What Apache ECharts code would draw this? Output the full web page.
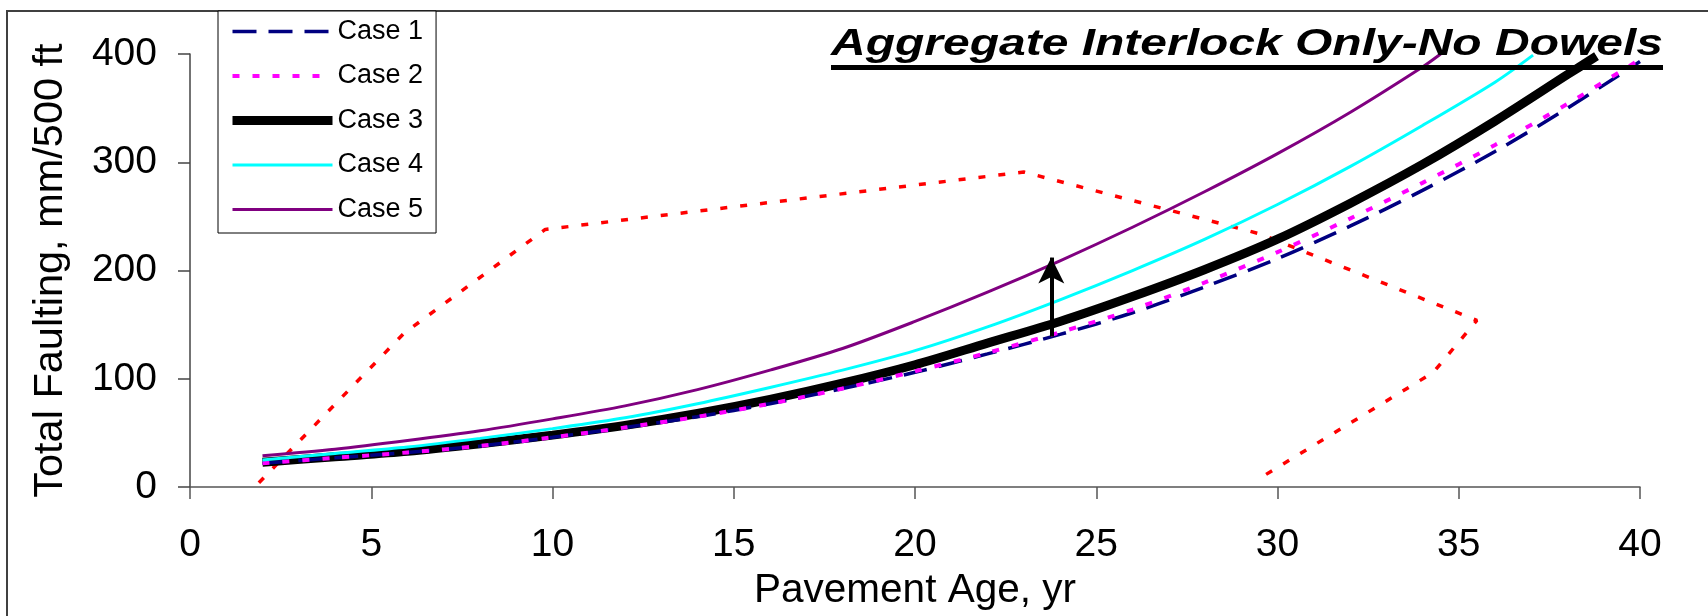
<!DOCTYPE html>
<html>
<head>
<meta charset="utf-8">
<script src="https://cdn.jsdelivr.net/npm/echarts@6/dist/echarts.min.js"></script>
<style>
  html, body { margin: 0; padding: 0; background: #ffffff; }
  #chart { width: 1708px; height: 616px; }
</style>
</head>
<body>
<div id="chart"></div>
<script>
// Total faulting (mm/500 ft) against pavement age (yr), aggregate interlock only
const caseNames = ['Case 1', 'Case 2', 'Case 3', 'Case 4', 'Case 5'];

const case1Age = [2, 4, 6, 8, 10, 12, 14, 16, 18, 20, 22, 24, 26, 28, 30, 32, 34, 36, 38, 40];
const case1Fault = [22, 27, 32, 38, 46, 55, 65, 77, 91, 106, 123, 141, 161, 185, 211, 241, 274, 310, 350, 393];

const case2Age = [2, 4, 6, 8, 10, 12, 14, 16, 18, 20, 22, 24, 26, 28, 30, 32, 34, 36, 38, 40];
const case2Fault = [22, 27, 32, 38, 46, 55, 65, 77, 91, 107, 124, 143, 164, 189, 217, 248, 281, 316, 354, 395];

const case3Age = [2, 4, 6, 8, 10, 12, 14, 16, 18, 20, 22, 24, 26, 28, 30, 32, 34, 36, 38, 38.8];
const case3Fault = [23, 28, 33, 40, 48, 57, 68, 81, 96, 113, 133, 153, 176, 201, 229, 262, 298, 338, 381, 398];

const case4Age = [2, 4, 6, 8, 10, 12, 14, 16, 18, 20, 22, 24, 26, 28, 30, 32, 34, 36, 37.05];
const case4Fault = [25, 31, 37, 45, 54, 64, 77, 92, 108, 126, 148, 173, 200, 229, 261, 296, 334, 374, 399];

const case5Age = [2, 4, 6, 8, 10, 12, 14, 16, 18, 20, 22, 24, 26, 28, 30, 32, 34, 34.5];
const case5Fault = [29, 35, 43, 52, 63, 75, 90, 108, 128, 153, 180, 209, 240, 273, 308, 346, 388, 400];

// Outline drawn around the sensitivity region
const outlineAge = [1.9, 5.9, 9.8, 23, 29.5, 35.5, 34.3, 29.6];
const outlineFault = [4, 142, 238, 291, 234, 154, 106, 10];

// Arrow marking the shift between cases
const arrowAge = 23.76;
const arrowFrom = 139;
const arrowTo = 212;

const xTicks = { min: 0, max: 40, step: 5 };
const yTicks = { min: 0, max: 400, step: 100 };

const titleText = 'Aggregate Interlock Only-No Dowels';
const xName = 'Pavement Age, yr';
const yName = 'Total Faulting, mm/500 ft';

const FONT = '"Liberation Sans", Arial, Helvetica, sans-serif';

function pairs(xs, ys) {
  return xs.map((x, i) => [x, ys[i]]);
}

const caseStyles = [
  { color: '#000080', width: 3.5, type: [24, 12] },
  { color: '#ff00ff', width: 4, type: [7, 13] },
  { color: '#000000', width: 9, type: 'solid' },
  { color: '#00ffff', width: 3, type: 'solid' },
  { color: '#800080', width: 3, type: 'solid' }
];
const caseData = [
  pairs(case1Age, case1Fault),
  pairs(case2Age, case2Fault),
  pairs(case3Age, case3Fault),
  pairs(case4Age, case4Fault),
  pairs(case5Age, case5Fault)
];

// Draw order: the thick line first so the dashed ones stay visible on top
const drawOrder = [2, 0, 1, 3, 4];

const series = [];
drawOrder.forEach(i => {
  const st = caseStyles[i];
  series.push({
    name: caseNames[i],
    type: 'line',
    data: caseData[i],
    symbol: 'none',
    smooth: 0.3,
    silent: true,
    z: 3,
    lineStyle: { color: st.color, width: st.width, type: st.type, cap: 'butt' },
    itemStyle: { color: st.color },
    emphasis: { disabled: true }
  });
});

series.push({
  name: 'outline',
  type: 'line',
  data: pairs(outlineAge, outlineFault),
  symbol: 'none',
  smooth: false,
  silent: true,
  z: 2,
  lineStyle: { color: '#ff0000', width: 3.5, type: [7, 13], cap: 'butt' },
  emphasis: { disabled: true }
});

series.push({
  name: 'arrow',
  type: 'line',
  data: [],
  silent: true,
  z: 4,
  markLine: {
    silent: true,
    animation: false,
    symbol: ['none', 'arrow'],
    symbolSize: [19.5, 26],
    lineStyle: { color: '#000000', width: 4, type: 'solid' },
    label: { show: false },
    emphasis: { disabled: true },
    data: [[{ coord: [arrowAge, arrowFrom] }, { coord: [arrowAge, arrowTo] }]]
  }
});

// Stretch the heading to the width it spans
const TITLE_FONT = 'italic bold 37px ' + FONT;
const TITLE_LEFT = 831;
const TITLE_WIDTH = 832;
const measureCtx = document.createElement('canvas').getContext('2d');
measureCtx.font = TITLE_FONT;
const titleScale = TITLE_WIDTH / measureCtx.measureText(titleText).width;

const chart = echarts.init(document.getElementById('chart'), null, { renderer: 'canvas' });

chart.setOption({
  animation: false,
  backgroundColor: '#ffffff',
  grid: { left: 190, top: 54, width: 1450, height: 437.5, containLabel: false },
  xAxis: {
    type: 'value',
    min: xTicks.min, max: xTicks.max, interval: xTicks.step,
    name: xName,
    nameLocation: 'middle',
    nameGap: 72,
    nameTextStyle: { fontFamily: FONT, fontSize: 40.5, color: '#000' },
    axisLine: { show: true, onZero: false, lineStyle: { color: '#555', width: 1.5 } },
    axisTick: { show: true, length: 12, lineStyle: { color: '#555', width: 1.5 } },
    axisLabel: { fontFamily: FONT, fontSize: 39, color: '#000', margin: 39 },
    splitLine: { show: false }
  },
  yAxis: {
    type: 'value',
    min: yTicks.min, max: yTicks.max, interval: yTicks.step,
    name: yName,
    nameLocation: 'middle',
    nameRotate: 90,
    nameGap: 118,
    nameTextStyle: { fontFamily: FONT, fontSize: 41.5, color: '#000' },
    axisLine: { show: true, onZero: false, lineStyle: { color: '#444', width: 1.5 } },
    axisTick: { show: true, length: 12, lineStyle: { color: '#444', width: 1.5 } },
    axisLabel: { fontFamily: FONT, fontSize: 39, color: '#000', margin: 33 },
    splitLine: { show: false }
  },
  legend: {
    orient: 'vertical',
    left: 218,
    top: 11,
    padding: [7, 13, 10, 10],
    itemGap: 17.5,
    itemWidth: 100,
    itemHeight: 20,
    backgroundColor: '#ffffff',
    borderColor: '#000000',
    borderWidth: 1,
    selectedMode: false,
    itemStyle: { opacity: 0 },
    textStyle: { fontFamily: FONT, fontSize: 27, color: '#000' },
    data: caseNames.map((n, i) => ({
      name: n,
      lineStyle: { color: caseStyles[i].color, width: caseStyles[i].width, type: caseStyles[i].type, cap: 'butt' }
    }))
  },
  graphic: [
    {
      type: 'rect',
      z: 0,
      silent: true,
      shape: { x: 7, y: 11, width: 1800, height: 700 },
      style: { fill: 'none', stroke: '#404040', lineWidth: 2 }
    },
    {
      type: 'text',
      z: 100,
      silent: true,
      x: TITLE_LEFT,
      y: 26,
      scaleX: titleScale,
      style: {
        text: titleText,
        font: TITLE_FONT,
        fill: '#000000',
        textAlign: 'left',
        textVerticalAlign: 'top'
      }
    },
    {
      type: 'rect',
      z: 100,
      silent: true,
      shape: { x: TITLE_LEFT, y: 65, width: TITLE_WIDTH, height: 5 },
      style: { fill: '#000000' }
    }
  ],
  series: series
});
</script>
</body>
</html>
